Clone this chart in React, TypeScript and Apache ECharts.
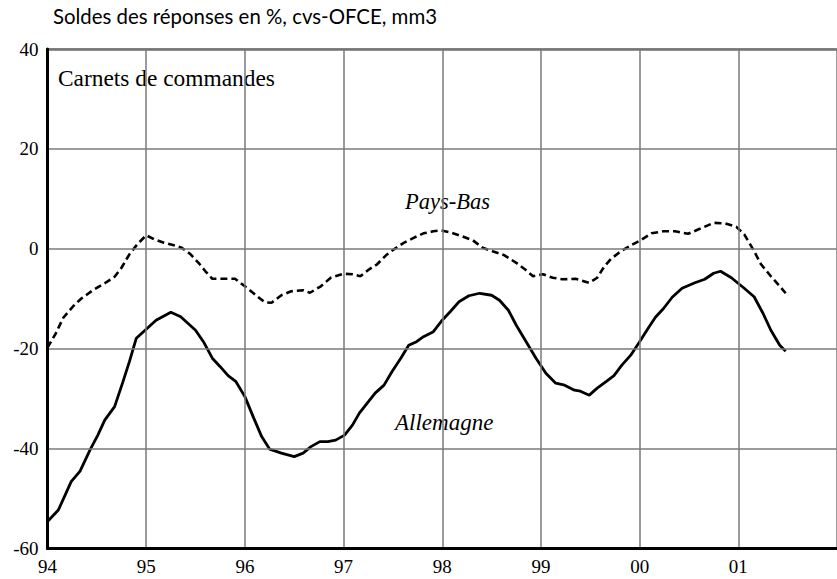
import React, { useEffect, useRef } from "react";
import * as echarts from "echarts";

const yTicks = { min: -60, max: 40, interval: 20 };
const xRange = { min: 1994, max: 2002, lastLabel: 2001 };

const allemagneYears = [
  1994.0, 1994.11, 1994.24, 1994.33, 1994.43, 1994.51, 1994.58, 1994.68, 1994.76, 1994.83, 1994.9,
  1995.0, 1995.1, 1995.25, 1995.35, 1995.5, 1995.58, 1995.67, 1995.75, 1995.83, 1995.91,
  1996.0, 1996.09, 1996.17, 1996.25, 1996.37, 1996.5, 1996.59, 1996.67, 1996.76, 1996.84, 1996.92,
  1997.01, 1997.09, 1997.16, 1997.24, 1997.32, 1997.41, 1997.49, 1997.58, 1997.66, 1997.74, 1997.81, 1997.91,
  1998.0, 1998.08, 1998.17, 1998.27, 1998.38, 1998.5, 1998.58, 1998.67, 1998.75, 1998.85, 1998.95,
  1999.05, 1999.15, 1999.24, 1999.34, 1999.4, 1999.49, 1999.57, 1999.66, 1999.74, 1999.82, 1999.91,
  2000.0, 2000.08, 2000.16, 2000.24, 2000.33, 2000.43, 2000.56, 2000.66, 2000.75, 2000.82, 2000.93,
  2001.01, 2001.06, 2001.16, 2001.25, 2001.33, 2001.42, 2001.48,
];
const allemagneValues = [
  -54.6, -52.3, -46.6, -44.5, -40.3, -37.3, -34.3, -31.6, -26.9, -22.6, -17.9,
  -16.1, -14.3, -12.7, -13.6, -16.3, -18.6, -21.9, -23.6, -25.4, -26.6,
  -29.6, -33.9, -37.6, -40.1, -40.9, -41.6, -40.9, -39.6, -38.6, -38.6, -38.3,
  -37.3, -35.3, -32.9, -30.9, -28.9, -27.3, -24.6, -21.9, -19.3, -18.6, -17.6, -16.6,
  -14.3, -12.6, -10.6, -9.4, -8.9, -9.3, -10.3, -12.3, -15.3, -18.6, -21.9,
  -24.9, -26.9, -27.3, -28.3, -28.5, -29.3, -27.9, -26.6, -25.4, -23.3, -21.3,
  -18.6, -16.1, -13.7, -12.0, -9.7, -7.9, -6.8, -6.1, -4.9, -4.5, -5.8,
  -7.1, -7.9, -9.6, -12.9, -16.3, -19.3, -20.5,
];

const paysBasYears = [
  1994.0, 1994.08, 1994.16, 1994.26, 1994.34, 1994.46, 1994.58, 1994.68, 1994.75, 1994.83, 1994.91,
  1995.0, 1995.08, 1995.18, 1995.28, 1995.36, 1995.45, 1995.53, 1995.6, 1995.67, 1995.78, 1995.9,
  1996.0, 1996.1, 1996.2, 1996.27, 1996.37, 1996.47, 1996.59, 1996.66, 1996.77, 1996.87,
  1997.0, 1997.09, 1997.17, 1997.26, 1997.34, 1997.43, 1997.51, 1997.61, 1997.71, 1997.81, 1997.91, 1997.98,
  1998.08, 1998.2, 1998.31, 1998.41, 1998.51, 1998.63, 1998.75, 1998.85, 1998.92,
  1999.02, 1999.12, 1999.22, 1999.35, 1999.49, 1999.57, 1999.64, 1999.71, 1999.81, 1999.91,
  2000.01, 2000.12, 2000.24, 2000.36, 2000.49, 2000.61, 2000.75, 2000.86, 2000.98,
  2001.06, 2001.15, 2001.23, 2001.33, 2001.42, 2001.48,
];
const paysBasValues = [
  -19.8, -17.1, -13.8, -11.5, -10.0, -8.3, -6.9, -5.6, -3.8, -1.1, 0.9,
  2.7, 1.9, 1.2, 0.7, 0.2, -1.1, -2.8, -4.5, -6.0, -6.0, -6.0,
  -7.5, -9.1, -10.7, -10.8, -9.3, -8.5, -8.3, -8.8, -7.5, -5.8,
  -5.0, -5.1, -5.5, -4.1, -3.1, -1.3, -0.1, 1.2, 2.2, 3.1, 3.5, 3.7,
  3.3, 2.5, 1.7, 0.2, -0.5, -1.3, -2.8, -4.3, -5.5,
  -5.1, -5.8, -6.1, -6.0, -6.8, -5.8, -3.6, -2.0, -0.5, 0.7,
  1.7, 3.1, 3.5, 3.5, 3.0, 4.0, 5.2, 5.1, 4.4,
  2.9, -0.1, -3.1, -5.5, -7.5, -8.9,
];

const titleText = "Soldes des réponses en %, cvs-OFCE, mm3";
const panelText = "Carnets de commandes";
const labelPaysBas = "Pays-Bas";
const labelAllemagne = "Allemagne";

const SERIF = "'Liberation Serif', 'Times New Roman', serif";

export default function App() {
  const ref = useRef<HTMLDivElement>(null);
  useEffect(() => {
    if (!ref.current) return;
    const chart = echarts.init(ref.current, undefined, { renderer: "svg" });
    const pair = (xs: number[], ys: number[]) => xs.map((x, i) => [x, ys[i]]);
    chart.setOption({
      animation: false,
      backgroundColor: "#ffffff",
      grid: { left: 47.5, right: -6.5, top: 49, bottom: 30.5, containLabel: false },
      xAxis: [
        {
          type: "value",
          min: xRange.min,
          max: xRange.max,
          interval: 1,
          position: "bottom",
          axisLine: { show: true, onZero: false, lineStyle: { color: "#000", width: 3 } },
          axisTick: { show: false },
          splitLine: { show: true, lineStyle: { color: "#7a7a7a", width: 1.5 } },
          axisLabel: {
            margin: 8,
            color: "#000",
            fontFamily: SERIF,
            fontSize: 19,
            showMaxLabel: false,
            formatter: (v: number) =>
              Number.isInteger(v) && v <= xRange.lastLabel ? String(v % 100).padStart(2, "0") : "",
          },
          z: 4,
        },
        {
          type: "value",
          min: xRange.min,
          max: xRange.max,
          position: "top",
          axisLine: { show: true, onZero: false, lineStyle: { color: "#6e6e6e", width: 2.5 } },
          axisTick: { show: false },
          axisLabel: { show: false },
          splitLine: { show: false },
        },
      ],
      yAxis: {
        type: "value",
        min: yTicks.min,
        max: yTicks.max,
        interval: yTicks.interval,
        axisLine: { show: true, lineStyle: { color: "#000", width: 3 } },
        axisTick: { show: false },
        splitLine: { show: true, lineStyle: { color: "#7a7a7a", width: 1.5 } },
        axisLabel: { margin: 9, color: "#000", fontFamily: SERIF, fontSize: 19 },
        z: 4,
      },
      series: [
        {
          name: "Pays-Bas",
          type: "line",
          xAxisIndex: 0,
          data: pair(paysBasYears, paysBasValues),
          showSymbol: false,
          lineStyle: { color: "#000", width: 2.6, type: [7, 4] },
          z: 3,
        },
        {
          name: "Allemagne",
          type: "line",
          xAxisIndex: 0,
          data: pair(allemagneYears, allemagneValues),
          showSymbol: false,
          lineStyle: { color: "#000", width: 2.8 },
          z: 3,
        },
      ],
      graphic: [
        {
          type: "text",
          x: 53,
          y: 16,
          style: {
            text: titleText,
            fill: "#000",
            font: "20.4px Lato, 'Open Sans', sans-serif",
            verticalAlign: "middle",
          },
        },
        {
          type: "text",
          x: 58,
          y: 78,
          style: {
            text: panelText,
            fill: "#000",
            font: `23.4px ${SERIF}`,
            verticalAlign: "middle",
          },
        },
        {
          type: "text",
          x: 405,
          y: 201,
          style: {
            text: labelPaysBas,
            fill: "#000",
            font: `italic 22.5px ${SERIF}`,
            verticalAlign: "middle",
          },
        },
        {
          type: "text",
          x: 395,
          y: 422,
          style: {
            text: labelAllemagne,
            fill: "#000",
            font: `italic 23px ${SERIF}`,
            verticalAlign: "middle",
          },
        },
      ],
    });
    return () => chart.dispose();
  }, []);
  return (
    <div
      ref={ref}
      style={{ position: "fixed", left: 0, top: 0, width: 837, height: 579, background: "#fff" }}
    />
  );
}
